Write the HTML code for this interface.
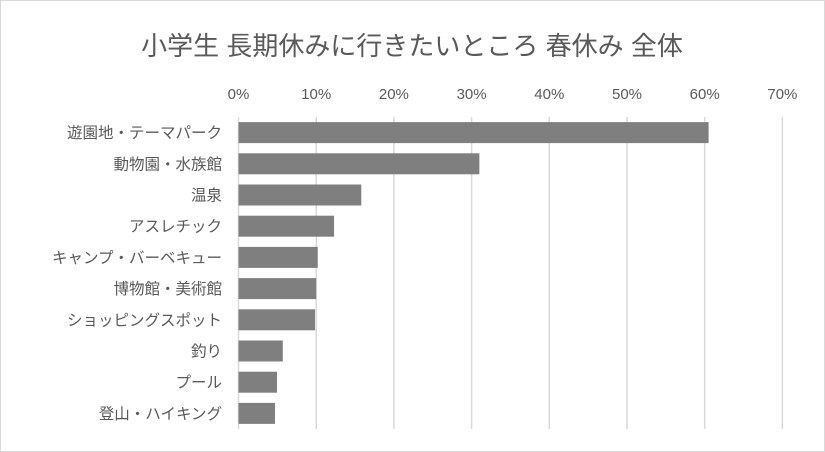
<!DOCTYPE html>
<html><head><meta charset="utf-8"><style>
body{margin:0;background:#fff;}
svg{display:block;font-family:"Liberation Sans","Noto Sans CJK JP",sans-serif;}
</style></head><body>
<svg id="chart" width="825" height="452">
<rect x="0.5" y="0.5" width="824" height="451" fill="#fff" stroke="#d9d9d9"/>
<text x="412" y="55" text-anchor="middle" font-size="26" fill="#595959">小学生 長期休みに行きたいところ 春休み 全体</text>
<g id="grid"></g><g id="bars"></g><g id="labels"></g>
</svg>
<script>
const categories=["遊園地・テーマパーク","動物園・水族館","温泉","アスレチック","キャンプ・バーベキュー","博物館・美術館","ショッピングスポット","釣り","プール","登山・ハイキング"];
const values=[60.5,31.0,15.8,12.3,10.2,10.0,9.85,5.7,4.96,4.7];
const ticks=[0,10,20,30,40,50,60,70];
const tickLabels=["0%","10%","20%","30%","40%","50%","60%","70%"];
const ns="http://www.w3.org/2000/svg";
const x0=238.5,pxPer=7.77,plotTop=117,band=31.2,barH=21;
const xs=v=>x0+v*pxPer;
const ys=i=>plotTop+i*band;
const grid=document.getElementById('grid'),bars=document.getElementById('bars'),labels=document.getElementById('labels');
ticks.forEach((t,i)=>{
 const l=document.createElementNS(ns,'line');
 l.setAttribute('x1',xs(t));l.setAttribute('x2',xs(t));l.setAttribute('y1',plotTop);l.setAttribute('y2',plotTop+band*categories.length);
 l.setAttribute('stroke','#d9d9d9');l.setAttribute('stroke-width','1.5');
 
 
 grid.appendChild(l);
 const tx=document.createElementNS(ns,'text');
 tx.setAttribute('x',xs(t));tx.setAttribute('y',99);tx.setAttribute('text-anchor','middle');
 tx.setAttribute('font-size','15');tx.setAttribute('fill','#595959');tx.textContent=tickLabels[i];
 
 
 labels.appendChild(tx);
});
categories.forEach((c,i)=>{
 const r=document.createElementNS(ns,'rect');
 r.setAttribute('x',xs(0));r.setAttribute('y',ys(i)+(band-barH)/2);
 r.setAttribute('width',xs(values[i])-xs(0));r.setAttribute('height',barH);r.setAttribute('fill','#7f7f7f');
 
 
 bars.appendChild(r);
 const tx=document.createElementNS(ns,'text');
 tx.setAttribute('x',222);tx.setAttribute('y',ys(i)+band/2+5.5);tx.setAttribute('text-anchor','end');
 tx.setAttribute('font-size','15.5');tx.setAttribute('fill','#595959');tx.textContent=c;
 
 
 labels.appendChild(tx);
});
</script>
</body></html>
